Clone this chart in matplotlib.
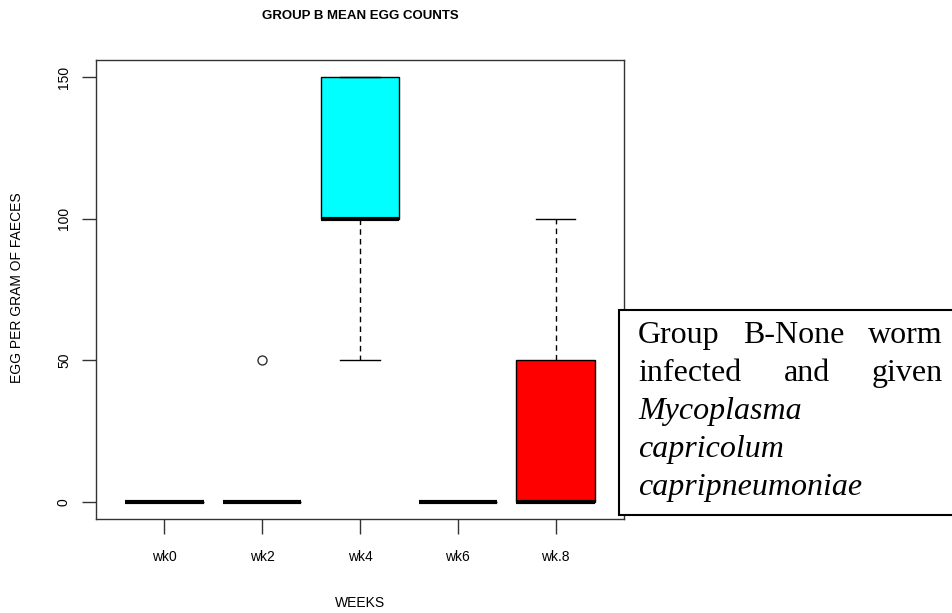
import matplotlib
matplotlib.use("Agg")
import matplotlib.pyplot as plt
from matplotlib.patches import Rectangle

# boxplot summary values (egg per gram of faeces)
weeks = ["wk0", "wk2", "wk4", "wk6", "wk.8"]
q1 = [0, 0, 100, 0, 0]
medians = [0, 0, 100, 0, 0]
q3 = [0, 0, 150, 0, 50]
whis_lo = [0, 0, 50, 0, 0]
whis_hi = [0, 0, 150, 0, 100]
outliers = [[], [50], [], [], []]
box_colors = ["white", "white", "cyan", "white", "red"]

note_lines = [
    (["Group", "B-None", "worm"], "normal", True),
    (["infected", "and", "given"], "normal", True),
    (["Mycoplasma"], "italic", False),
    (["capricolum"], "italic", False),
    (["capripneumoniae"], "italic", False),
]

W, H = 953, 613
fig = plt.figure(figsize=(W / 100, H / 100), dpi=100)

def fx(px):
    return px / W

def fy(py):
    return 1 - py / H

ax = fig.add_axes([fx(96), fy(519), (624 - 96) / W, (519 - 60) / H])

stats = []
for i in range(len(weeks)):
    stats.append(dict(med=medians[i], q1=q1[i], q3=q3[i],
                      whislo=whis_lo[i], whishi=whis_hi[i],
                      fliers=outliers[i], label=weeks[i]))

bp = ax.bxp(stats, positions=range(1, 6), widths=0.8, capwidths=0.4,
            patch_artist=True, showfliers=True,
            boxprops=dict(edgecolor="black", linewidth=1.0),
            whiskerprops=dict(color="black", linewidth=1.0, linestyle=(0, (4, 3))),
            capprops=dict(color="black", linewidth=1.0),
            medianprops=dict(color="black", linewidth=3.0, solid_capstyle="butt"),
            flierprops=dict(marker="o", markersize=6.5, markerfacecolor="none",
                            markeredgecolor="#333333", markeredgewidth=1.0))
for patch, c in zip(bp["boxes"], box_colors):
    patch.set_facecolor(c)

ax.set_xlim(0.3, 5.7)
ax.set_ylim(-6, 156)
ax.set_yticks([0, 50, 100, 150])
ax.set_yticklabels(["0", "50", "100", "150"], rotation=90, va="center",
                   fontsize=10, family="Liberation Sans")
ax.set_xticks(range(1, 6))
ax.set_xticklabels(weeks, fontsize=10, family="Liberation Sans")
ax.tick_params(axis="x", length=11, width=1.0, pad=11, color="#333333")
ax.tick_params(axis="y", length=10, width=1.0, pad=8, color="#333333")
for s in ax.spines.values():
    s.set_linewidth(1.0)
    s.set_color("#333333")

fig.text(fx(360), fy(16), "GROUP B MEAN EGG COUNTS", ha="center", va="center",
         fontsize=9.5, fontweight="bold", family="Liberation Sans")
fig.text(fx(360), fy(603), "WEEKS", ha="center", va="center",
         fontsize=10, family="Liberation Sans")
fig.text(fx(17), fy(288), "EGG PER GRAM OF FAECES", ha="center", va="center",
         rotation=90, fontsize=10, family="Liberation Sans")

# overlaid caption box
fig.patches.append(Rectangle((fx(619), fy(515)), (1000 - 619) / W, (515 - 310) / H,
                             transform=fig.transFigure, facecolor="white",
                             edgecolor="black", linewidth=1.5, zorder=5))

left, right = 638, 943
baselines = [343, 381, 419, 457, 495]
fig.canvas.draw()
renderer = fig.canvas.get_renderer()
for (words, style, justify), yb in zip(note_lines, baselines):
    texts = [fig.text(0, fy(yb), w, fontsize=23, family="Liberation Serif",
                      style=style, va="baseline", ha="left", zorder=6)
             for w in words]
    widths = [t.get_window_extent(renderer).width for t in texts]
    if justify and len(words) > 1:
        gap = (right - left - sum(widths)) / (len(words) - 1)
    else:
        gap = 0
    x = left
    for t, w in zip(texts, widths):
        t.set_x(fx(x))
        x += w + gap

fig.savefig("out.png", dpi=100)
